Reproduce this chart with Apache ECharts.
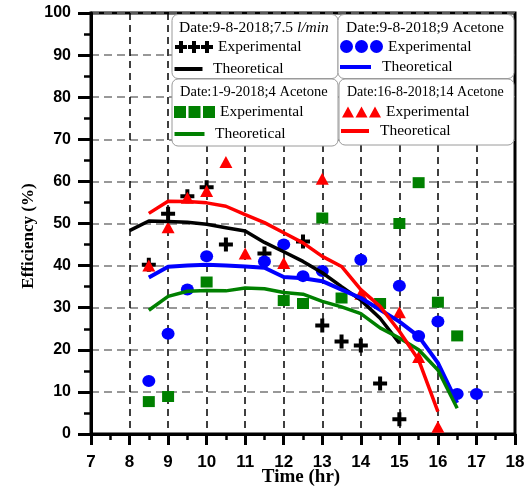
<!DOCTYPE html>
<html>
<head>
<meta charset="utf-8">
<script src="https://cdn.jsdelivr.net/npm/echarts@6/dist/echarts.min.js"></script>
<style>html,body{margin:0;padding:0;background:#fff;}#c{width:529px;height:489px;}</style>
</head>
<body>
<div id="c"></div>
<script>
// ---- data ----
const xTicks = [7, 8, 9, 10, 11, 12, 13, 14, 15, 16, 17, 18];
const yTicks = [0, 10, 20, 30, 40, 50, 60, 70, 80, 90, 100];
const xTitle = 'Time (hr)';
const yTitle = 'Efficiency (%)';

const titles = ['Date:9-8-2018;7.5 ', 'Date:9-8-2018;9 Acetone', 'Date:1-9-2018;4 Acetone', 'Date:16-8-2018;14 Acetone'];
const titleItalic = 'l/min';

const hoursBlackExp = [8.5, 9, 9.5, 10, 10.5, 11.5, 12.5, 13, 13.5, 14, 14.5, 15];
const effBlackExp   = [40.2, 52.3, 56.5, 58.6, 45, 42.9, 45.7, 25.8, 22, 21, 12, 3.5];
const hoursBlackTheo = [8, 8.5, 9, 9.5, 10, 10.5, 11, 11.5, 12, 12.5, 13, 13.5, 14, 14.5, 15];
const effBlackTheo   = [48.3, 50.6, 50.5, 50.3, 49.8, 49, 48.2, 45.5, 43.3, 41, 38.3, 35, 31.8, 27.5, 21.6];

const hoursBlueExp = [8.5, 9, 9.5, 10, 11.5, 12, 12.5, 13, 14, 15, 15.5, 16, 16.5, 17];
const effBlueExp   = [12.6, 23.8, 34.3, 42.2, 41, 45, 37.5, 38.7, 41.4, 35.2, 23.3, 26.7, 9.5, 9.5];
const hoursBlueTheo = [8.5, 9, 9.5, 10, 10.5, 11, 11.5, 12, 12.5, 13, 13.5, 14, 14.5, 15, 15.5, 16, 16.5];
const effBlueTheo   = [37.2, 39.7, 40, 40.2, 40, 39.8, 39.5, 37.3, 37, 36.3, 34.3, 32.3, 29.5, 26.7, 23.2, 16.9, 7.4];

const hoursGreenExp = [8.5, 9, 10, 12, 12.5, 13, 13.5, 14.5, 15, 15.5, 16, 16.5];
const effGreenExp   = [7.7, 8.9, 36.1, 31.7, 31, 51.3, 32.3, 31, 50, 59.7, 31.3, 23.3];
const hoursGreenTheo = [8.5, 9, 9.5, 10, 10.5, 11, 11.5, 12, 12.5, 13, 13.5, 14, 14.5, 15, 15.5, 16, 16.5];
const effGreenTheo   = [29.4, 32.7, 33.9, 34.1, 34, 34.7, 34.5, 33.6, 33.2, 31.5, 30.2, 28.6, 25.2, 22.8, 20, 15.2, 6.1];

const hoursRedExp = [8.5, 9, 9.5, 10, 10.5, 11, 12, 13, 14, 15, 15.5, 16];
const effRedExp   = [40, 49.1, 56.1, 57.7, 64.6, 42.9, 40.6, 60.6, 33.3, 28.9, 18.3, 1.7];
const hoursRedTheo = [8.5, 9, 9.5, 10, 10.5, 11, 11.5, 12, 12.5, 13, 13.5, 14, 14.5, 15, 15.5, 16];
const effRedTheo   = [52.4, 55.3, 55.2, 54.9, 54.1, 52.1, 50.2, 47.8, 45.4, 42.2, 39.8, 34.3, 30.3, 24.4, 17.6, 5.3];

// ---- helpers ----
const pairs = (xs, ys) => xs.map((x, i) => [x, ys[i]]);
const SERIF = "'Liberation Serif', 'DejaVu Serif', serif";
const SANS = "'Liberation Sans', Arial, sans-serif";

const plusPath = 'path://M5,0H9V5H14V9H9V14H5V9H0V5H5Z';
const icon3Plus = 'path://M4,0H8V4H12V8H8V12H4V8H0V4H4Z M17,0H21V4H25V8H21V12H17V8H13V4H17Z M30,0H34V4H38V8H34V12H30V8H26V4H30Z';
const icon3Circle = 'path://M0,6.5A6.5,6.5 0 1,0 13,6.5A6.5,6.5 0 1,0 0,6.5Z M15,6.5A6.5,6.5 0 1,0 28,6.5A6.5,6.5 0 1,0 15,6.5Z M30,6.5A6.5,6.5 0 1,0 43,6.5A6.5,6.5 0 1,0 30,6.5Z';
const icon3Square = 'path://M0,0H12V12H0Z M14.5,0H26.5V12H14.5Z M29,0H41V12H29Z';
const icon3Tri = 'path://M0,11L6,0L12,11Z M13.5,11L19.5,0L25.5,11Z M27,11L33,0L39,11Z';

const C = {black: '#000000', blue: '#0000ff', green: '#008000', red: '#ff0000'};

function expSeries(name, color, symbol, size, data) {
  return {type: 'scatter', name, data, symbol, symbolSize: size,
    itemStyle: {color, opacity: 1}, z: 3, emphasis: {disabled: true}};
}
function theoSeries(name, color, width, data) {
  return {type: 'line', name, data, showSymbol: false, symbol: 'none',
    lineStyle: {color, width}, itemStyle: {color}, z: 4, emphasis: {disabled: true}};
}
function legendFor(name, iconPath, left, top, w, h) {
  return {data: [{name, icon: iconPath}], left, top, itemWidth: w, itemHeight: h,
    padding: 0, selectedMode: false, symbolKeepAspect: true, z: 12,
    formatter: n => n.split(' ')[0],
    textStyle: {fontFamily: SERIF, fontSize: 15.5, color: '#000'}};
}

const series = [
  expSeries('Experimental A', C.black, plusPath, 14, pairs(hoursBlackExp, effBlackExp)),
  expSeries('Experimental B', C.blue, 'circle', [13, 12], pairs(hoursBlueExp, effBlueExp)),
  expSeries('Experimental C', C.green, 'rect', [12, 11], pairs(hoursGreenExp, effGreenExp)),
  expSeries('Experimental D', C.red, 'triangle', [13, 12], pairs(hoursRedExp, effRedExp)),
  theoSeries('Theoretical A', C.black, 3.5, pairs(hoursBlackTheo, effBlackTheo)),
  theoSeries('Theoretical B', C.blue, 4, pairs(hoursBlueTheo, effBlueTheo)),
  theoSeries('Theoretical C', C.green, 3.5, pairs(hoursGreenTheo, effGreenTheo)),
  theoSeries('Theoretical D', C.red, 3.5, pairs(hoursRedTheo, effRedTheo))
];

const legends = [
  legendFor('Experimental A', icon3Plus, 175, 39, 38, 12),
  legendFor('Theoretical A', 'path://M0,0H28V4H0Z', 174.5, 61, 39, 4),
  legendFor('Experimental B', icon3Circle, 340, 38.5, 43, 13),
  legendFor('Theoretical B', 'path://M0,0H31V4H0Z', 340, 59, 43, 4),
  legendFor('Experimental C', icon3Square, 174, 104, 41, 12),
  legendFor('Theoretical C', 'path://M0,0H30V4H0Z', 174.5, 126, 41, 4),
  legendFor('Experimental D', icon3Tri, 342, 104, 39, 11),
  legendFor('Theoretical D', 'path://M0,0H28V4H0Z', 341, 123, 40, 4)
];

function box(x, y, w, h) {
  return {type: 'rect', shape: {x, y, width: w, height: h, r: 6}, z: 8,
    style: {fill: '#fff', stroke: '#9a9a9a', lineWidth: 1}};
}
function ttl(x, y, t, fs) {
  return {type: 'text', x, y, z: 11, style: {text: t, fontFamily: SERIF, fontSize: fs, fill: '#000', verticalAlign: 'middle'}};
}

const option = {
  animation: false,
  backgroundColor: '#fff',
  grid: {left: 91, right: 14, top: 13, bottom: 55, outerBoundsMode: 'none', containLabel: false,
    show: true, borderColor: '#000', borderWidth: 3, backgroundColor: 'transparent'},
  xAxis: {
    type: 'value', min: xTicks[0], max: xTicks[xTicks.length - 1], interval: 1,
    axisLine: {lineStyle: {color: '#000', width: 3}},
    axisTick: {show: true, inside: false, length: 11, lineStyle: {color: '#000', width: 3}},
    minorTick: {show: true, splitNumber: 2, length: 6, lineStyle: {color: '#000', width: 2.5}},
    axisLabel: {margin: 20, fontFamily: SANS, fontWeight: 'bold', fontSize: 17, color: '#000'},
    splitLine: {show: true, lineStyle: {color: '#000', width: 1.5, type: [7, 5]}}
  },
  yAxis: {
    type: 'value', min: yTicks[0], max: yTicks[yTicks.length - 1], interval: 10,
    axisLine: {lineStyle: {color: '#000', width: 3}},
    axisTick: {show: true, inside: false, length: 13, lineStyle: {color: '#000', width: 3}},
    minorTick: {show: true, splitNumber: 2, length: 7, lineStyle: {color: '#000', width: 2.5}},
    axisLabel: {margin: 20, fontFamily: SANS, fontWeight: 'bold', fontSize: 16, color: '#000'},
    splitLine: {show: true, lineStyle: {color: '#777', width: 1.5, type: [8, 5]}}
  },
  legend: legends,
  graphic: {elements: [
    box(172, 14.5, 166, 64), box(338, 14.5, 176, 64),
    box(172, 79, 166, 67), box(339, 79, 175, 66),
    {type: 'text', x: 179, y: 28, z: 11, style: {
      text: '{a|' + titles[0] + '}{i|' + titleItalic + '}', verticalAlign: 'middle',
      rich: {a: {fontFamily: SERIF, fontSize: 15.5, fill: '#000', color: '#000'},
             i: {fontFamily: SERIF, fontSize: 15.5, fontStyle: 'italic', fill: '#000', color: '#000'}}}},
    ttl(346, 28, titles[1], 15.5), ttl(180, 92, titles[2], 14.5), ttl(347, 92, titles[3], 14),
    {type: 'text', x: 29, y: 236, rotation: Math.PI / 2, z: 11, style: {
      text: yTitle, fontFamily: SERIF, fontWeight: 'bold', fontSize: 17, fill: '#000',
      align: 'center', verticalAlign: 'middle'}},
    {type: 'text', x: 301, y: 477, z: 11, style: {
      text: xTitle, fontFamily: SERIF, fontWeight: 'bold', fontSize: 19, fill: '#000',
      align: 'center', verticalAlign: 'middle'}}
  ]},
  series
};

const chart = echarts.init(document.getElementById('c'), null, {renderer: 'canvas'});
chart.setOption(option);
</script>
</body>
</html>
